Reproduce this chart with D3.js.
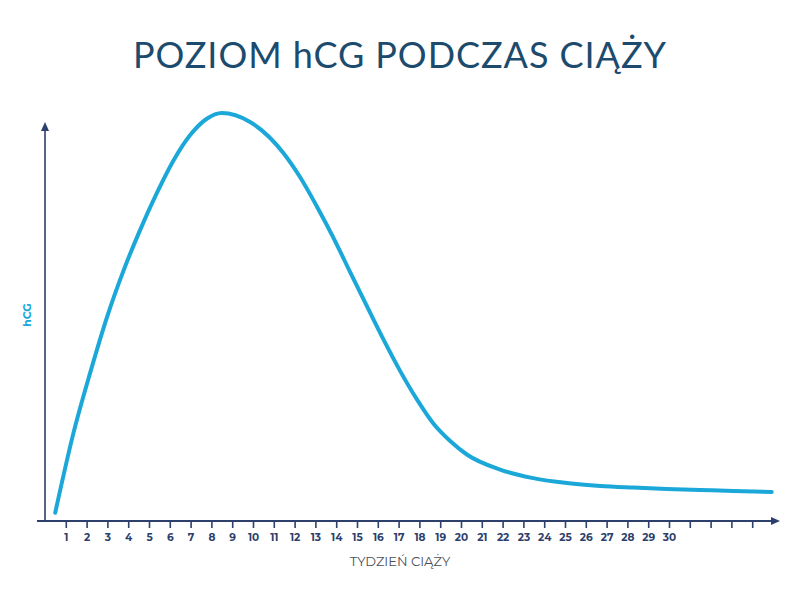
<!DOCTYPE html>
<html><head><meta charset="utf-8">
<script src="https://cdn.jsdelivr.net/npm/d3@7"></script>
<style>html,body{margin:0;padding:0;background:#fff;}svg{display:block;}</style>
</head><body><svg id="c" width="800" height="600"></svg>
<script>
const title = "POZIOM hCG PODCZAS CIĄŻY";
const xTitle = "TYDZIEŃ CIĄŻY";
const yTitle = "hCG";
const weeks = [0.49, 1.37, 2.17, 2.97, 3.77, 4.57, 5.38, 6.17, 6.98, 7.78, 8.5, 9.86, 11.46, 12.26, 13.07, 13.85, 14.67, 15.47, 16.27, 17.07, 17.88, 18.67, 19.48, 20.28, 21.88, 23.47, 25.09, 26.7, 28.27, 29.89, 31.49, 33.08, 34.94];
const hcg = [2, 21.6, 36.3, 49.8, 61.3, 71.3, 80.4, 88.3, 94.6, 98.6, 100, 97.8, 90.2, 84.3, 77.1, 69.6, 61.0, 52.7, 44.5, 36.8, 29.8, 23.9, 19.6, 16.3, 12.6, 10.5, 9.3, 8.6, 8.2, 7.85, 7.6, 7.35, 7.1];
const tickWeeks = d3.range(1, 35);
const tickLabels = d3.range(1, 31).map(String);

const svg = d3.select("#c");
const x = d3.scaleLinear().domain([0, 35]).range([45, 773]);
const y = d3.scaleLinear().domain([0, 100]).range([521, 113]);
const axisColor = "#2d3f6c";
const lineColor = "#1ba8d9";

svg.append("text").attr("x", 400).attr("y", 68).attr("text-anchor", "middle")
  .attr("font-family", "Lato, 'Open Sans', sans-serif").attr("font-weight", 400).attr("font-size", 36)
  .attr("fill", "#1c4b6e").attr("letter-spacing", 1).attr("textLength", 534)
  .text(title);

// x axis
const xAxis = d3.axisBottom(x).tickValues(tickWeeks).tickSize(7).tickPadding(6)
  .tickFormat(d => d <= tickLabels.length ? tickLabels[d - 1] : "");
const gx = svg.append("g").attr("transform", "translate(0,521)").call(xAxis);
gx.select(".domain").remove();
gx.selectAll(".tick line").attr("stroke", axisColor).attr("stroke-width", 1.6);
gx.selectAll(".tick text").attr("fill", axisColor).attr("font-family", "Montserrat, 'Open Sans', sans-serif")
  .attr("font-weight", 700).attr("font-size", 10.5);
svg.append("line").attr("x1", 37).attr("x2", 772).attr("y1", 521).attr("y2", 521)
  .attr("stroke", axisColor).attr("stroke-width", 1.8);
svg.append("path").attr("d", "M780,521 L771,517 L771,525 Z").attr("fill", axisColor);

// y axis
svg.append("line").attr("x1", 45).attr("x2", 45).attr("y1", 521).attr("y2", 130)
  .attr("stroke", axisColor).attr("stroke-width", 1.6);
svg.append("path").attr("d", "M45,122 L41,131 L49,131 Z").attr("fill", axisColor);

svg.append("text").attr("transform", "translate(31,315) rotate(-90)").attr("text-anchor", "middle")
  .attr("font-family", "Montserrat, 'Open Sans', sans-serif").attr("font-weight", 700).attr("font-size", 11)
  .attr("fill", lineColor).text(yTitle);

svg.append("text").attr("x", 400).attr("y", 566).attr("text-anchor", "middle")
  .attr("font-family", "Montserrat, 'Open Sans', sans-serif").attr("font-size", 13)
  .attr("fill", "#4a4f57").text(xTitle);

const line = d3.line().x((d, i) => x(weeks[i])).y(d => y(d)).curve(d3.curveMonotoneX);
svg.append("path").attr("d", line(hcg)).attr("fill", "none").attr("stroke", lineColor)
  .attr("stroke-width", 4).attr("stroke-linecap", "round");
</script></body></html>
